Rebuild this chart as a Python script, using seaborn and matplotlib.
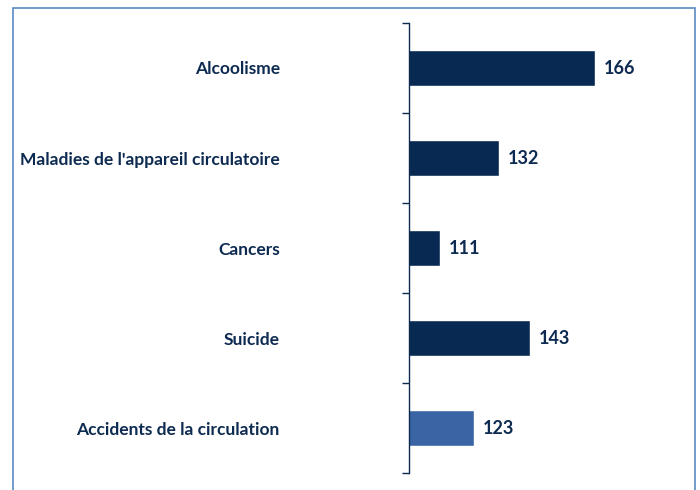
import matplotlib
matplotlib.use("Agg")
import matplotlib.pyplot as plt
import matplotlib.patches as patches
from matplotlib.ticker import FixedLocator
import seaborn as sns

categories = ["Alcoolisme", "Maladies de l'appareil circulatoire", "Cancers",
              "Suicide", "Accidents de la circulation"]
values = [166, 132, 111, 143, 123]
bar_colors = ["#082A52", "#082A52", "#082A52", "#082A52", "#3A64A4"]

text_color = "#0D2A50"

sns.set_style("white")
plt.rcParams['font.family'] = ['Lato', 'DejaVu Sans']

fig = plt.figure(figsize=(7, 4.9), dpi=100)
ax = fig.add_axes([409 / 700, 1 - 473 / 490, 282 / 700, 450 / 490])

sns.barplot(x=values, y=categories, hue=categories, palette=bar_colors,
            orient="h", width=0.4, legend=False, ax=ax, saturation=1)

ax.set_xlim(100, 200)
ax.set_ylim(4.5, -0.5)
ax.set_xlabel("")
ax.set_ylabel("")
ax.set_xticks([])

# ticks at category boundaries, labels centered
ax.yaxis.set_minor_locator(FixedLocator([-0.5, 0.5, 1.5, 2.5, 3.5, 4.5]))
ax.tick_params(axis="y", which="minor", left=True, length=5, width=1,
               color=text_color, direction="out")
ax.tick_params(axis="y", which="major", length=0, pad=93, labelsize=12.5,
               labelcolor=text_color)
for lab in ax.get_yticklabels():
    lab.set_fontweight("bold")
    lab.set_y(lab.get_position()[1])

for s in ["top", "right", "bottom"]:
    ax.spines[s].set_visible(False)
ax.spines["left"].set_color(text_color)
ax.spines["left"].set_linewidth(1)

for c in ax.containers:
    ax.bar_label(c, padding=6.5, fontsize=13, fontweight="bold", color=text_color)

# outer frame
fig.patches.append(patches.Rectangle((13 / 700, -0.1), 682 / 700, 1.1 - 8 / 490,
                                     transform=fig.transFigure, fill=False,
                                     edgecolor="#5B8BC4", linewidth=1.2))

fig.savefig("out.png", dpi=100)
